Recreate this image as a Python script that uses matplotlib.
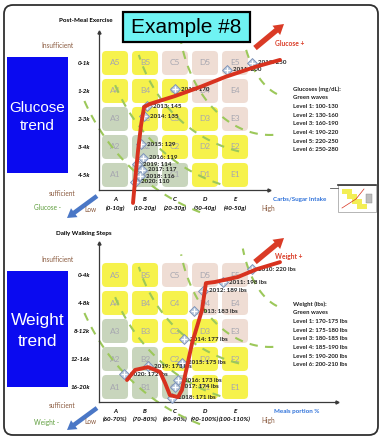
import numpy as np
import matplotlib.pyplot as plt
from matplotlib.patches import FancyBboxPatch, Rectangle, FancyArrow

plt.rcParams['font.family'] = ['Lato', 'DejaVu Sans']

# ---- data (rows listed from row 1 at the bottom up to row 5) ----
col_letters = ['A', 'B', 'C', 'D', 'E']
row_numbers = [1, 2, 3, 4, 5]
cell_codes = ['GGGYY', 'GGYYY', 'GYYYP', 'YYYPP', 'YYPPP']

glu_xticks = ['(0-10g)', '(10-20g)', '(20-30g)', '(30-40g)', '(40-50g)']
glu_yticks = ['4-5k', '3-4k', '2-3k', '1-2k', '0-1k']
glu_years = [2010, 2011, 2012, 2013, 2014, 2015, 2016, 2017, 2018, 2019, 2020]
glu_values = [250, 200, 170, 145, 135, 129, 119, 117, 116, 114, 110]
glu_col = [4.57, 3.73, 2.0, 1.07, 0.97, 0.87, 0.93, 0.9, 0.83, 0.73, 0.68]
glu_row = [4.0, 3.75, 3.07, 2.46, 2.1, 1.1, 0.61, 0.18, -0.04, 0.39, -0.25]
glu_trend_col = [0.6, 0.67, 0.77, 0.87, 0.97, 1.17, 2.0, 2.83, 3.67, 4.67, 5.5]
glu_trend_row = [-1.0, -0.18, 0.89, 1.79, 2.43, 2.54, 2.82, 3.14, 3.5, 3.86, 4.11]
glu_levels = ['100-130', '130-160', '160-190', '190-220', '220-250', '250-280']

wt_xticks = ['(60-70%)', '(70-80%)', '(80-90%)', '(90-100%)', '(100-110%)']
wt_yticks = ['16-20k', '12-16k', '8-12k', '4-8k', '0-4k']
wt_years = [2010, 2011, 2012, 2013, 2014, 2015, 2016, 2017, 2018, 2019, 2020]
wt_values = [220, 198, 189, 183, 177, 175, 173, 174, 171, 173, 172]
wt_col = [4.57, 3.6, 2.93, 2.63, 2.3, 2.23, 2.1, 2.0, 1.9, 1.1, 0.3]
wt_row = [4.21, 3.75, 3.43, 2.71, 1.71, 0.86, 0.25, 0.0, -0.39, 0.75, 0.46]
wt_trend_col = [0.4, 0.67, 1.1, 1.5, 1.67, 1.83, 2.1, 2.23, 2.57, 2.9, 3.03, 3.33, 4.1, 4.73, 5.5]
wt_trend_row = [0.25, 0.61, 0.71, 0.54, 0.14, -0.29, -0.36, -0.11, 1.57, 2.75, 3.71, 3.75, 3.93, 4.21, 4.46]
wt_levels = ['170-175 lbs', '175-180 lbs', '180-185 lbs', '185-190 lbs', '190-200 lbs', '200-210 lbs']

# green "waves": elliptic arcs (centre col, centre row, radius col, radius row, angle from, angle to)
waves = [(5.17, 5.89, 6.83, 7.68, 110, 155),
         (5.17, 5.89, 5.67, 6.50, 107, 156),
         (5.17, 5.89, 4.60, 5.18, 103, 162),
         (5.17, 5.89, 3.07, 4.46, 88, 165),
         (5.83, 6.07, 1.67, 3.29, 105, 160)]

cell_fill = {'Y': '#F6F24C', 'P': '#EFDDD4', 'G': '#C8D5BC'}

W, H = 382, 441
COL0, DCOL, DROW = 115, 30, 28   # pixel centre of column A, pixel steps
fig = plt.figure(figsize=(W / 100, H / 100), dpi=100)


def draw_panel(row0, top, bottom, right, xt, yt, years, vals, unit, pc, pr, tc, tr):
    ax = fig.add_axes([99 / W, 1 - bottom / H, (right - 99) / W, (bottom - top) / H])
    ax.set_xlim((99 - COL0) / DCOL, (right - COL0) / DCOL)
    ax.set_ylim((row0 - bottom) / DROW, (row0 - top) / DROW)
    ax.patch.set_alpha(0)

    # the 5x5 grid of rounded cells
    for r, codes in enumerate(cell_codes):
        for c, code in enumerate(codes):
            ax.add_patch(FancyBboxPatch((c - 0.433, r - 0.428), 0.867, 0.857,
                                        boxstyle='round,pad=0,rounding_size=0.14',
                                        mutation_aspect=DCOL / DROW,
                                        fc=cell_fill[code], ec='none', zorder=1))
            ax.text(c, r, f'{col_letters[c]}{row_numbers[r]}', ha='center', va='center',
                    fontsize=6, color='#A6A6B0', zorder=1.5)

    for cx, cy, rx, ry, t0, t1 in waves:
        t = np.radians(np.linspace(t0, t1, 80))
        ax.plot(cx + rx * np.cos(t), cy - ry * np.sin(t), color='#9CC85A', lw=1.5,
                dashes=(4, 3.5), zorder=2, clip_on=False)

    ax.plot(pc, pr, 'D', ms=5.5, mfc='#B9C8DD', mec='#7A90B6', mew=0.6, zorder=4, clip_on=False)
    ax.plot(pc, pr, '+', ms=5, color='white', mew=0.9, zorder=4.1, clip_on=False)
    for y, v, c, r in zip(years, vals, pc, pr):
        ax.text(c + 0.2, r, f'{y}: {v}{unit}', fontsize=4.5, fontweight='bold',
                va='center', ha='left', color='#222222', zorder=5, clip_on=False)

    ax.plot(tc, tr, color='#D8321F', lw=2.8, solid_capstyle='round',
            solid_joinstyle='round', zorder=6, clip_on=False)

    ax.set_xticks(range(5))
    ax.set_xticklabels([f'{l}\n{t}' for l, t in zip(col_letters, xt)], fontsize=4.5,
                       fontweight='bold', fontstyle='italic', linespacing=1.7)
    ax.set_yticks(range(5))
    ax.set_yticklabels(yt, fontsize=4.5, fontweight='bold', fontstyle='italic')
    ax.tick_params(axis='x', length=0, pad=5)
    ax.tick_params(axis='y', length=0, pad=6.5)
    for s in ['top', 'right']:
        ax.spines[s].set_visible(False)
    for s in ['left', 'bottom']:
        ax.spines[s].set_color('#3A3A3A')
        ax.spines[s].set_linewidth(0.9)
    ax.plot(0, 1, '^', ms=2.2, color='#3A3A3A', transform=ax.transAxes, clip_on=False)
    ax.plot(1, 0, '>', ms=2.2, color='#3A3A3A', transform=ax.transAxes, clip_on=False)
    return ax


draw_panel(175, 32, 190, 269, glu_xticks, glu_yticks, glu_years, glu_values, '',
           glu_col, glu_row, glu_trend_col, glu_trend_row)
draw_panel(387, 243, 402, 337, wt_xticks, wt_yticks, wt_years, wt_values, ' lbs',
           wt_col, wt_row, wt_trend_col, wt_trend_row)

# ---- overlay in pixel units for the decorations ----
ov = fig.add_axes([0, 0, 1, 1])
ov.set_xlim(0, W)
ov.set_ylim(H, 0)
ov.axis('off')
ov.patch.set_alpha(0)

ov.add_patch(FancyBboxPatch((4, 5), 374, 430, boxstyle='round,pad=0,rounding_size=9',
                            fc='none', ec='#303030', lw=1.3))
ov.add_patch(Rectangle((123, 12), 127, 30, fc='#6FF3F3', ec='black', lw=1.6))
ov.text(186.5, 27.5, 'Example #8', fontsize=15, family='Liberation Sans',
        ha='center', va='center', color='black')

brown = '#8A5A3E'
green = '#5E9E3C'
bluet = '#2F72DA'
red = '#DA3B26'
small = dict(fontsize=4.5, fontweight='bold', ha='center', va='center')

for y0, title, sub, name, axis_name, minus, plus, legend_title, levels in [
        (0, 'Post-Meal Exercise', 'Glucose', 'Glucose', 'Carbs/Sugar Intake',
         'Glucose -', 'Glucose +', 'Glucoses (mg/dL):', glu_levels),
        (212, 'Daily Walking Steps', 'Weight', 'Weight', 'Meals portion %',
         'Weight -', 'Weight +', 'Weight (lbs):', wt_levels)]:
    ov.text(86 if y0 == 0 else 84, 20 + y0 + (1 if y0 else 0), title, color='black', **small)
    ov.text(58, 45 + y0 + (2 if y0 else 0), 'Insufficient', fontsize=4.7, color=brown,
            ha='center', va='center')
    ov.text(62, 193 + y0, 'sufficient', fontsize=4.7, color=brown, ha='center', va='center')
    ov.text(90, 210 + y0, 'Low', fontsize=4.7, color=brown, ha='center', va='center')
    ov.text(268, 208 + y0, 'High', fontsize=4.7, color=brown, ha='center', va='center')
    ov.text(47, 208 + y0 + (3 if y0 else 0), minus, fontsize=4.7, color=green,
            ha='center', va='center')
    ov.text(300 if y0 == 0 else 297, 199 + y0, axis_name, color=bluet, **small)
    ov.text(275, 43 + y0 + (2 if y0 else 0), plus, fontsize=4.8, fontweight='bold',
            color=red, ha='left', va='center')

    # blue title box
    ov.add_patch(Rectangle((7, 57 + y0 + (2 if y0 else 0)), 61, 116, fc='#0A0AF0', ec='none'))
    fs = 11 if y0 == 0 else 12.5
    ov.text(37.5, 107 + y0 + 1, name, fontsize=fs, family='Liberation Sans',
            color='white', ha='center', va='center')
    ov.text(37.5, 126 + y0 + (4 if y0 else 0), 'trend', fontsize=fs,
            family='Liberation Sans', color='white', ha='center', va='center')

    # arrows
    ov.add_patch(FancyArrow(255, 48 + y0 + (2 if y0 else 0), 29, -24, width=5.5,
                            head_width=12, head_length=10, length_includes_head=True,
                            fc=red, ec='none'))
    ov.add_patch(FancyArrow(97, 196 + y0, -30, 22, width=4.5, head_width=11,
                            head_length=9, length_includes_head=True,
                            fc='#4A77C6', ec='none'))

    # legend text
    lines = [legend_title, 'Green waves'] + [f'Level {i + 1}: {lv}' for i, lv in enumerate(levels)]
    ly = 89 + y0 + (3 if y0 else 0)
    for i, txt in enumerate(lines):
        ov.text(293, ly + i * 8.7, txt, fontsize=4.3, fontweight='bold', color='#1E1E1E',
                ha='left', va='center')

# small thumbnail at the right of the carbs axis
ov.plot([330, 338], [188, 188], color='#555555', lw=0.6)
ov.add_patch(Rectangle((338, 185), 38, 27, fc='white', ec='#999999', lw=0.5))
ov.plot([338, 376], [185, 185], color='#333333', lw=1.2)
for dx, dy in [(4, 4), (9, 4), (9, 9), (14, 9), (14, 14), (19, 14), (19, 19), (24, 19)]:
    ov.add_patch(Rectangle((338 + dx, 185 + dy), 4.5, 4.5, fc='#F3EE55', ec='none'))
ov.plot([342, 356, 364], [208, 199, 189], color='#D8321F', lw=0.5)
ov.add_patch(Rectangle((366, 194), 6, 9, fc='#BDBDBD', ec='#888888', lw=0.3))

fig.savefig('out.png', dpi=100)
